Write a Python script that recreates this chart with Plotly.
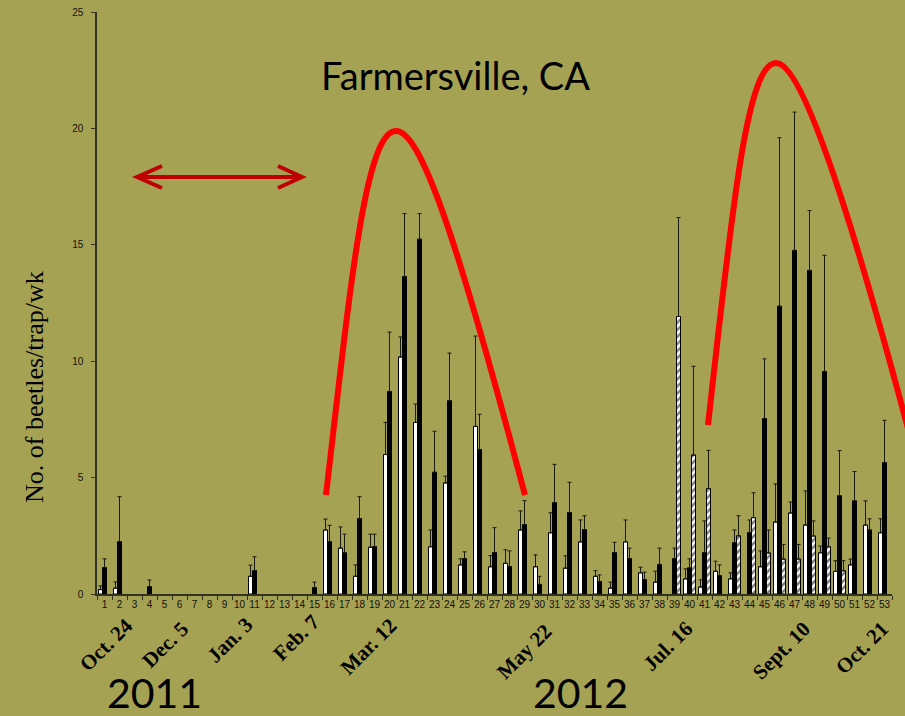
import plotly.graph_objects as go

weeks = [str(i) for i in range(1, 54)]

white_vals = [0.19, 0.25, 0, 0, 0, 0, 0, 0, 0, 0,
              0.76, 0, 0, 0, 0, 2.75, 1.97, 0.76, 2.01, 5.99,
              10.18, 7.37, 2.03, 4.77, 1.25, 7.2, 1.17, 1.32, 2.75, 1.17,
              2.63, 1.11, 2.24, 0.76, 0.25, 2.24, 0.91, 0.51, 0, 0.65,
              0.3, 0.98, 0.65, 0, 1.17, 3.09, 3.48, 2.96, 1.77, 0.97,
              1.25, 2.96, 2.63]
white_err = [0.16, 0.27, None, None, None, None, None, None, None, None,
             0.48, None, None, None, None, 0.47, 0.91, 0.49, 0.56, 1.38,
             0.86, 0.79, 0.72, 0.29, 0.26, 3.88, 0.48, 0.58, 0.82, 0.51,
             0.86, 0.53, 0.94, 0.24, 0.26, 0.94, 0.24, 0.47, None, 0.43,
             0.31, 0.43, 0.26, None, 0.68, 1.64, 0.47, 1.47, 0.29, 0.46,
             0.25, 1.04, 0.6]

black_vals = [1.14, 2.25, 0, 0.32, 0, 0, 0, 0, 0, 0,
              1.01, 0, 0, 0, 0.28, 2.25, 1.77, 3.24, 2.04, 8.7,
              13.64, 15.24, 5.23, 8.3, 1.52, 6.21, 1.78, 1.18, 2.98, 0.41,
              3.93, 3.5, 2.77, 0.54, 1.78, 1.52, 0.62, 1.27, 1.52, 1.12,
              1.78, 0.79, 2.2, 2.64, 7.54, 12.36, 14.76, 13.9, 9.56, 4.22,
              4.0, 2.75, 5.65]
black_err = [0.37, 1.93, None, 0.28, None, None, None, None, None, None,
             0.59, None, None, None, 0.23, 0.7, 0.8, 0.94, 0.53, 2.55,
             2.7, 1.1, 1.76, 2.05, 0.29, 1.51, 1.07, 0.67, 1.03, 0.35,
             1.64, 1.3, 0.59, 0.28, 0.44, 0.45, 0.32, 0.7, 0.45, 0.39,
             1.36, 0.46, 0.55, 0.54, 2.56, 7.24, 5.94, 2.57, 4.99, 1.94,
             1.26, 0.48, 1.81]

hatch_vals = [0] * 38 + [11.92, 5.97, 4.53, 0, 2.5, 3.28, 1.76, 1.5, 1.5, 2.49,
                         2.03, 1.0, 0, 0, 0]
hatch_err = [None] * 38 + [4.25, 3.81, 1.64, None, 0.86, 1.07, 0.99, 0.63, 0.63, 0.65,
                           0.37, 0.43, None, None, None]

y_ticks = [0, 5, 10, 15, 20, 25]
date_labels = ["Oct. 24", "Dec. 5", "Jan. 3", "Feb. 7", "Mar. 12",
               "May 22", "Jul. 16", "Sept. 10", "Oct. 21"]
date_pos_px = [(106, 645), (165, 645), (230, 640), (296, 638), (368, 647),
               (524, 652), (668, 646), (781, 651), (862, 648)]
years = ["2011", "2012"]
year_pos_px = [(154, 692), (580, 692)]

BG = "#A6A254"
W, H = 905, 716
L, R, T, B = 97, 13, 12, 122
PW, PH = W - L - R, H - T - B


def px(x):
    return (x - L) / PW


def py(y):
    return (H - B - y) / PH


def nz(v):
    return [None if a == 0 else a for a in v]


def errs(e):
    return dict(type="data", symmetric=False, array=e, arrayminus=[0] * len(e),
                color="#1a1a10", thickness=1, width=2)


fig = go.Figure()
fig.add_trace(go.Bar(x=weeks, y=nz(white_vals), name="white",
                     marker=dict(color="white", line=dict(color="black", width=1)),
                     error_y=errs(white_err)))
fig.add_trace(go.Bar(x=weeks, y=nz(black_vals), name="black",
                     marker=dict(color="black", line=dict(color="black", width=1)),
                     error_y=errs(black_err)))
fig.add_trace(go.Bar(x=weeks, y=nz(hatch_vals), name="hatched",
                     marker=dict(color="white", line=dict(color="black", width=1),
                                 pattern=dict(shape="/", fgcolor="black", bgcolor="white",
                                              size=5, solidity=0.5)),
                     error_y=errs(hatch_err)))


def P(x, y):
    return f"{px(x):.5f},{py(y):.5f}"


shapes = []
red = dict(color="#FF0000", width=6)
arc1 = ("M" + P(326, 495) + " C" + P(350, 290) + " " + P(365, 131) + " " + P(396, 131)
        + " C" + P(420, 131) + " " + P(455, 230) + " " + P(525, 495))
arc2 = ("M" + P(708, 425) + " C" + P(731, 221) + " " + P(746, 63) + " " + P(776, 63)
        + " C" + P(800, 63) + " " + P(845, 190) + " " + P(915, 455))
for a in (arc1, arc2):
    shapes.append(dict(type="path", xref="paper", yref="paper", path=a,
                       line=red, layer="above"))
dred = dict(color="#C00000", width=4)
shapes.append(dict(type="path", xref="paper", yref="paper",
                   path="M" + P(138, 177) + " L" + P(300, 177), line=dred))
shapes.append(dict(type="path", xref="paper", yref="paper",
                   path="M" + P(162, 166) + " L" + P(137, 177) + " L" + P(162, 188), line=dred))
shapes.append(dict(type="path", xref="paper", yref="paper",
                   path="M" + P(278, 166) + " L" + P(302, 177) + " L" + P(278, 188), line=dred))

ann = []
ann.append(dict(text="Farmersville, CA", x=px(455), y=py(75), xref="paper", yref="paper",
                showarrow=False, xanchor="center", yanchor="middle",
                font=dict(family="Lato, Open Sans, sans-serif", size=38, color="black")))
ann.append(dict(text="No. of beetles/trap/wk", x=px(35), y=py(387), xref="paper", yref="paper",
                showarrow=False, xanchor="center", yanchor="middle", textangle=-90,
                font=dict(family="Liberation Serif, Times New Roman, serif", size=26, color="black")))
for lab, (x, y) in zip(date_labels, date_pos_px):
    ann.append(dict(text="<b>" + lab + "</b>", x=px(x), y=py(y), xref="paper", yref="paper",
                    showarrow=False, xanchor="center", yanchor="middle", textangle=-45,
                    font=dict(family="Liberation Serif, Times New Roman, serif", size=21,
                              color="black")))
for lab, (x, y) in zip(years, year_pos_px):
    ann.append(dict(text=lab, x=px(x), y=py(y), xref="paper", yref="paper",
                    showarrow=False, xanchor="center", yanchor="middle",
                    font=dict(family="Lato, Open Sans, sans-serif", size=41, color="black")))

fig.update_layout(
    width=W, height=H,
    margin=dict(l=L, r=R, t=T, b=B, pad=0),
    paper_bgcolor=BG, plot_bgcolor=BG,
    barmode="group", bargap=0.2, bargroupgap=0,
    showlegend=False,
    shapes=shapes, annotations=ann,
    xaxis=dict(type="category", categoryorder="array", categoryarray=weeks,
               tickson="boundaries", ticks="outside", ticklen=4, tickcolor="#333322",
               showline=True, linecolor="#333322", linewidth=1.5, showgrid=False,
               tickangle=0, automargin=False,
               tickfont=dict(family="Liberation Sans Narrow, Arial Narrow, Liberation Sans, sans-serif",
                             size=10, color="#111111"),
               range=[-0.5, 52.5], zeroline=False),
    yaxis=dict(range=[0, 25], tickvals=y_ticks, ticks="outside", ticklen=4,
               tickcolor="#333322", showline=True, linecolor="#333322", linewidth=1.5,
               showgrid=False, zeroline=False, ticklabelstandoff=6, automargin=False,
               tickfont=dict(family="Liberation Sans, Arial, sans-serif", size=10,
                             color="#111111")),
)

fig.write_html("out.html", config={"displayModeBar": False},
               post_script="document.body.style.margin='0';document.body.style.padding='0';"
                           "document.documentElement.style.overflow='hidden';")
